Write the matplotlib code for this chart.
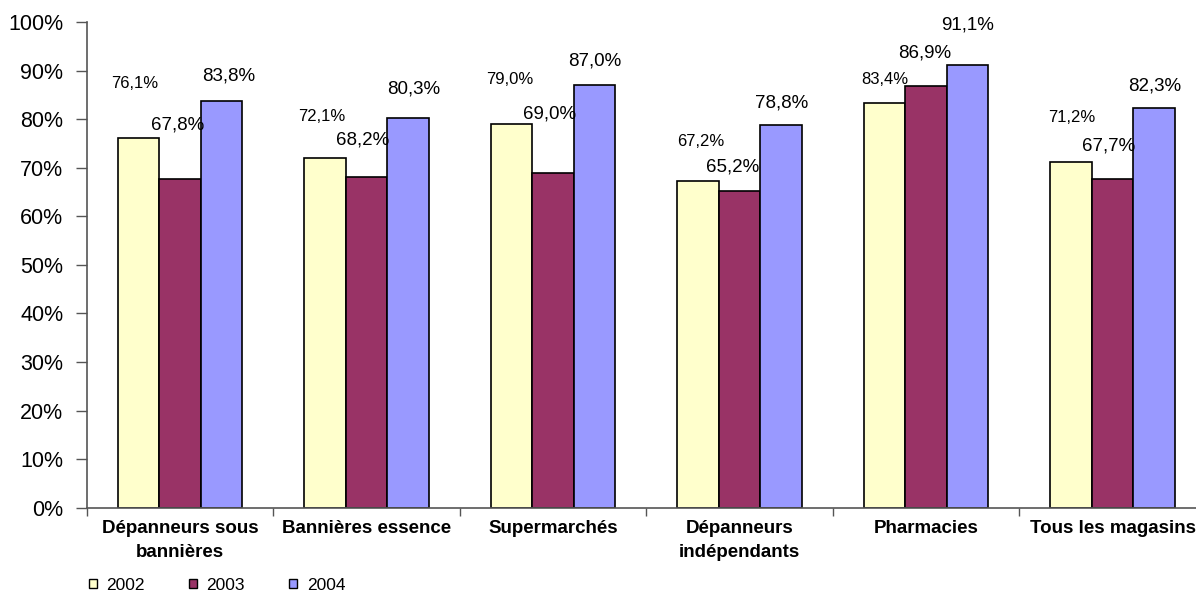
import matplotlib
matplotlib.use("Agg")
import matplotlib.pyplot as plt
import numpy as np
from matplotlib.ticker import FixedLocator, FuncFormatter, NullFormatter

plt.rcParams['font.family'] = ['Liberation Sans', 'DejaVu Sans']

categories = ["Dépanneurs sous\nbannières", "Bannières essence", "Supermarchés",
              "Dépanneurs\nindépendants", "Pharmacies", "Tous les magasins"]
years = ["2002", "2003", "2004"]
values_2002 = [76.1, 72.1, 79.0, 67.2, 83.4, 71.2]
values_2003 = [67.8, 68.2, 69.0, 65.2, 86.9, 67.7]
values_2004 = [83.8, 80.3, 87.0, 78.8, 91.1, 82.3]
y_ticks = [0, 10, 20, 30, 40, 50, 60, 70, 80, 90, 100]

series = [values_2002, values_2003, values_2004]
colors = ["#FFFFCC", "#993366", "#9999FF"]

# value label placement (pixel offsets from the top centre of each bar)
label_dx = [[-4, -3, -2, 3, 0, 1],
            [-3, -4, -4, -7, -2, -4],
            [7, 5, 0, 0, 0, 0]]
label_dy = [[55, 41, 45, 40, 23, 45],
            [54, 37, 59, 24, 33, 33],
            [25, 29, 24, 22, 40, 22]]
label_size = [12, 13.5, 13.5]

fig = plt.figure(figsize=(11.96, 5.93), dpi=100)
ax = fig.add_axes([87 / 1196, (593 - 507.6) / 593, (1206 - 87) / 1196, (507.6 - 22.3) / 593])

n = len(categories)
x = np.arange(n) + 0.5
width = 41.5 / 186.5

for i, (vals, col, yr) in enumerate(zip(series, colors, years)):
    xpos = x + (i - 1) * width
    ax.bar(xpos, vals, width=width, color=col, edgecolor="black", linewidth=1.2, label=yr)
    for j, v in enumerate(vals):
        txt = f"{v:.1f}%".replace(".", ",")
        ax.annotate(txt, xy=(xpos[j], v), xytext=(label_dx[i][j], label_dy[i][j]),
                    textcoords="offset pixels", ha="center", va="center",
                    fontsize=label_size[i], color="black")

ax.set_xlim(0, n)
ax.set_ylim(0, 100)

ax.xaxis.set_major_locator(FixedLocator(np.arange(n + 1)))
ax.xaxis.set_major_formatter(NullFormatter())
ax.xaxis.set_minor_locator(FixedLocator(x))
ax.set_xticklabels(categories, minor=True, fontsize=13.5, fontweight="bold")
for t in ax.get_xticklabels(minor=True):
    t.set_linespacing(1.55)
ax.tick_params(axis="x", which="major", direction="out", length=6, width=1, color="#555555")
ax.tick_params(axis="x", which="minor", length=0, pad=9)

ax.yaxis.set_major_locator(FixedLocator(y_ticks))
ax.yaxis.set_major_formatter(FuncFormatter(lambda v, p: f"{int(round(v))}%"))
ax.tick_params(axis="y", direction="out", length=8, width=1, color="#555555", labelsize=15.5, pad=9)

for s in ["top", "right"]:
    ax.spines[s].set_visible(False)
for s in ["left", "bottom"]:
    ax.spines[s].set_color("#555555")
    ax.spines[s].set_linewidth(1.2)

leg = fig.legend(loc="center left", bbox_to_anchor=(89 / 1196, 1 - 585 / 593), ncol=3, frameon=False,
                 fontsize=12.5, handlelength=0.45, handleheight=0.45, handletextpad=0.55,
                 columnspacing=2.55, borderaxespad=0, borderpad=0)
for h in leg.legend_handles:
    h.set_linewidth(1.0)

fig.savefig("out.png", dpi=100)
